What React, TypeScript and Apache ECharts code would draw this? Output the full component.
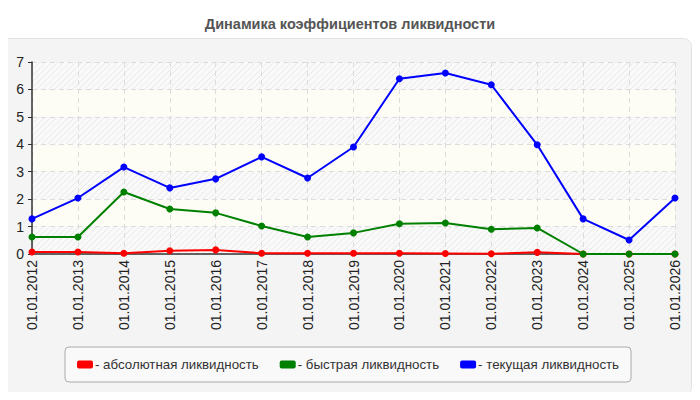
import * as echarts from 'echarts';
import { useEffect, useRef } from 'react';

const dates = [
  '01.01.2012', '01.01.2013', '01.01.2014', '01.01.2015', '01.01.2016',
  '01.01.2017', '01.01.2018', '01.01.2019', '01.01.2020', '01.01.2021',
  '01.01.2022', '01.01.2023', '01.01.2024', '01.01.2025', '01.01.2026'
];

const absoluteLiquidity = [0.07, 0.07, 0.03, 0.12, 0.15, 0.03, 0.03, 0.03, 0.03, 0.02, 0.01, 0.06, 0, 0, 0];
const quickLiquidity = [0.62, 0.62, 2.26, 1.64, 1.5, 1.02, 0.62, 0.77, 1.1, 1.13, 0.9, 0.95, 0, 0, 0];
const currentLiquidity = [1.28, 2.04, 3.17, 2.41, 2.74, 3.54, 2.77, 3.9, 6.39, 6.6, 6.17, 3.98, 1.28, 0.51, 2.04];

const seriesNames = ['абсолютная ликвидность', 'быстрая ликвидность', 'текущая ликвидность'];
const seriesColors = ['#ff0000', '#008000', '#0000ff'];

// diagonal hatch used on every other band of the plot
const makeHatch = () => {
  const c = document.createElement('canvas');
  c.width = 6;
  c.height = 6;
  const ctx = c.getContext('2d');
  if (ctx) {
    ctx.fillStyle = '#f9f9f9';
    ctx.fillRect(0, 0, 6, 6);
    ctx.strokeStyle = '#e9e9e9';
    ctx.lineWidth = 1;
    ctx.beginPath();
    ctx.moveTo(0, 6);
    ctx.lineTo(6, 0);
    ctx.moveTo(-3, 3);
    ctx.lineTo(3, -3);
    ctx.moveTo(3, 9);
    ctx.lineTo(9, 3);
    ctx.stroke();
  }
  return c;
};

export default function App() {
  const chartRef = useRef<HTMLDivElement>(null);

  useEffect(() => {
    if (!chartRef.current) return;
    const chart = echarts.init(chartRef.current, null, { renderer: 'svg' });

    const font = 'Arial, "Liberation Sans", sans-serif';
    const data = [absoluteLiquidity, quickLiquidity, currentLiquidity];

    chart.setOption({
      animation: false,
      textStyle: { fontFamily: font },
      title: {
        text: 'Динамика коэффициентов ликвидности',
        left: 'center',
        top: 11,
        textStyle: { fontSize: 14.5, fontWeight: 'bold', color: '#555', fontFamily: font }
      },
      graphic: [
        {
          type: 'rect',
          z: -10,
          silent: true,
          shape: { x: 0.5, y: 38.5, width: 691, height: 357, r: 8 },
          style: { fill: '#f4f4f4', stroke: '#e2e2e2', lineWidth: 1 }
        }
      ],
      legend: {
        left: 65,
        top: 347,
        width: 568,
        padding: [11, 12, 11, 12],
        itemGap: 21,
        itemWidth: 16,
        itemHeight: 8,
        itemStyle: { borderWidth: 0 },
        icon: 'roundRect',
        backgroundColor: '#f9f9f9',
        borderColor: '#aaa',
        borderWidth: 1,
        borderRadius: 4,
        formatter: (name: string) => '- ' + name,
        textStyle: { fontSize: 13.3, color: '#333', padding: [0, 0, 0, -3] },
        data: seriesNames
      },
      grid: { left: 32, right: 25, top: 62, bottom: 146 },
      xAxis: {
        type: 'category',
        data: dates,
        boundaryGap: false,
        axisLine: { lineStyle: { color: '#333', width: 1.5 } },
        axisTick: { show: false },
        axisLabel: { rotate: 90, fontSize: 14, color: '#222', margin: 6 },
        splitLine: { show: true, lineStyle: { color: '#dcdcdc', type: [5, 4] } }
      },
      yAxis: {
        type: 'value',
        min: 0,
        max: 7,
        interval: 1,
        axisLine: { show: true, lineStyle: { color: '#333', width: 1.5 } },
        axisTick: { show: true, length: 4, lineStyle: { color: '#333' } },
        axisLabel: { fontSize: 14, color: '#222', margin: 8 },
        splitLine: { show: true, lineStyle: { color: '#dcdcdc', type: [5, 4] } },
        splitArea: {
          show: true,
          areaStyle: {
            color: [{ image: makeHatch(), repeat: 'repeat' }, '#fdfdf6']
          }
        }
      },
      series: seriesNames.map((name, i) => ({
        name,
        type: 'line',
        data: data[i],
        color: seriesColors[i],
        symbol: 'circle',
        symbolSize: 7,
        lineStyle: { width: 2, color: seriesColors[i] },
        itemStyle: { color: seriesColors[i] }
      }))
    });

    return () => {
      chart.dispose();
    };
  }, []);

  return <div ref={chartRef} style={{ width: 700, height: 400, margin: -8 }} />;
}
